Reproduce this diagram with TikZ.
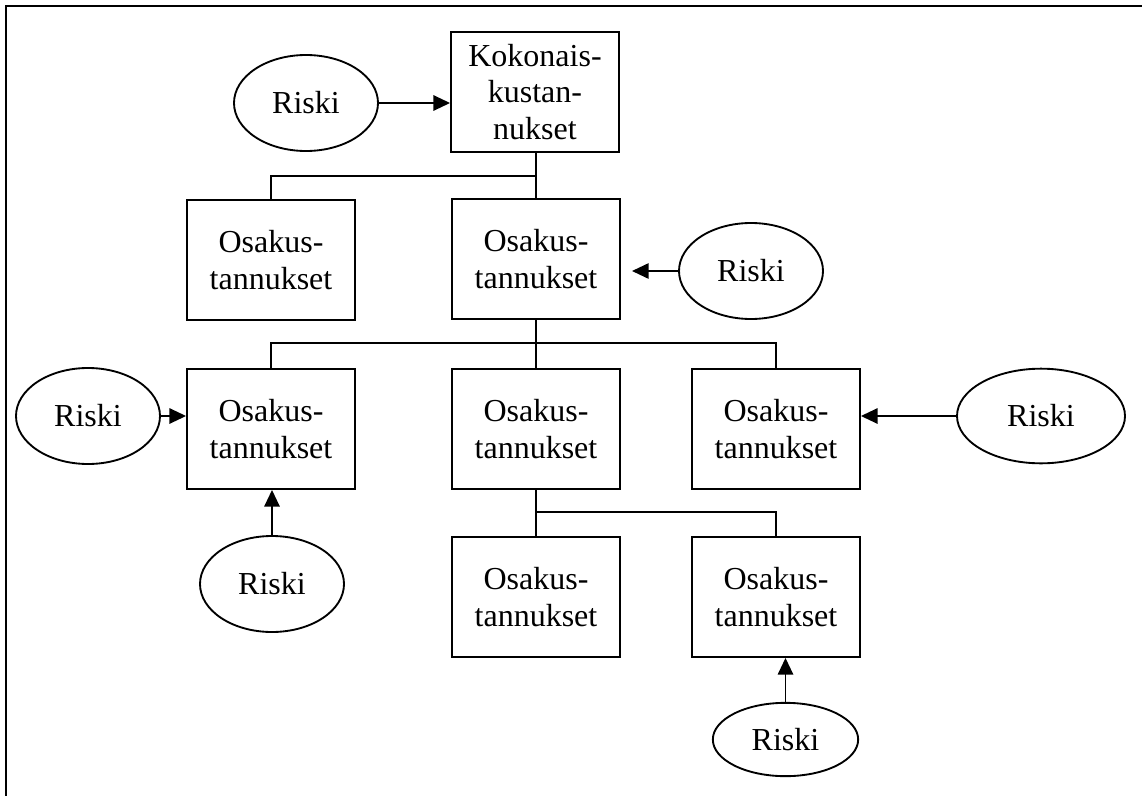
\documentclass[tikz,border=0pt]{standalone}
\usepackage{fontspec}
\setmainfont{Liberation Serif}
\usetikzlibrary{arrows.meta,shapes.geometric}
\begin{document}
\begin{tikzpicture}[x=0.75pt,y=-0.75pt,
  box/.style={draw, line width=1.4pt, minimum width=126pt, minimum height=90pt, inner sep=0pt, align=center, font=\fontsize{24}{27.6}\selectfont},
  risk/.style={draw, ellipse, line width=1.4pt, inner sep=0pt, minimum width=108pt, minimum height=72pt, font=\fontsize{24}{27.6}\selectfont},
  arr/.style={line width=1.4pt, -{Triangle[length=12.5pt,width=11.5pt]}},
  conn/.style={line width=1.4pt}]
\useasboundingbox (0,0) rectangle (1142,796);
\draw[line width=1.9pt] (1142,6) -- (6,6) -- (6,796);

% boxes
\node[box] (k)  at (535,92)  {Kokonais-\\kustan-\\nukset};
\node[box] (o1) at (271,260) {Osakus-\\tannukset};
\node[box] (o2) at (536,259) {Osakus-\\tannukset};
\node[box] (o3) at (271,429) {Osakus-\\tannukset};
\node[box] (o4) at (536,429) {Osakus-\\tannukset};
\node[box] (o5) at (776,429) {Osakus-\\tannukset};
\node[box] (o6) at (536,597) {Osakus-\\tannukset};
\node[box] (o7) at (776,597) {Osakus-\\tannukset};

% risks
\node[risk] (r1) at (306,103) {Riski};
\node[risk] (r2) at (751,271) {Riski};
\node[risk] (r3) at (88,416)  {Riski};
\node[risk] (r4) at (272,584) {Riski};
\node[risk, minimum width=126pt, minimum height=71pt] (r5) at (1041,416) {Riski};
\node[risk, minimum width=109pt, minimum height=55pt] (r6) at (785.5,739.5) {Riski};

% junctions
\coordinate (j1) at (536,176);
\coordinate (j2) at (536,343);
\coordinate (j3) at (536,512);
\coordinate (t2) at (632,271);

% tree connectors
\draw[conn] (k.south -| j1) -- (o2.north);
\draw[conn] (o1.north) |- (j1);
\draw[conn] (o2.south) -- (o4.north);
\draw[conn] (o3.north) |- (j2) -| (o5.north);
\draw[conn] (o4.south) -- (o6.north);
\draw[conn] (j3) -| (o7.north);

% risk arrows
\draw[arr] (r1.east) -- (r1.east -| k.west);
\draw[arr] (r2.west) -- (r2.west -| t2);
\draw[arr] (r3.east) -- (r3.east -| o3.west);
\draw[arr] (r4.north) -- (r4.north |- o3.south);
\draw[arr] (r5.west) -- (r5.west -| o5.east);
\draw[arr] (r6.north) -- (r6.north |- o7.south);
\end{tikzpicture}
\end{document}
